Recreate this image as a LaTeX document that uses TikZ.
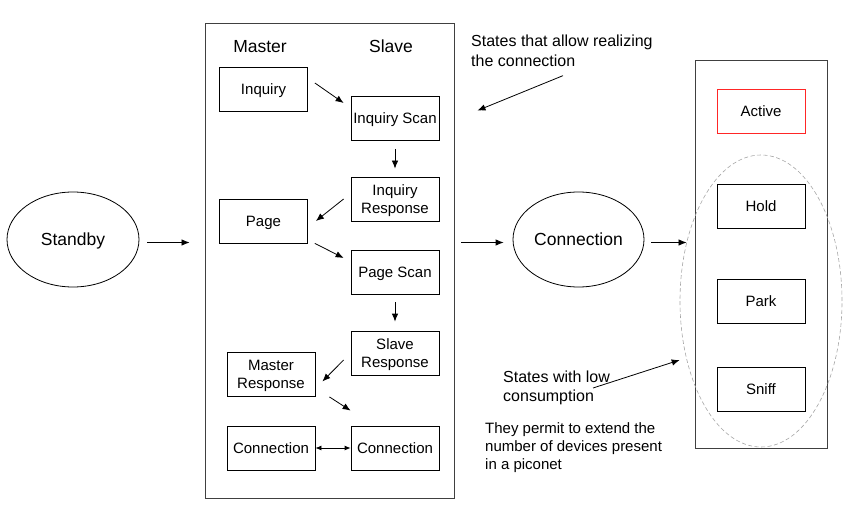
\documentclass[tikz,border=0pt]{standalone}
\usepackage{fontspec}
\setmainfont{Liberation Sans}
\usetikzlibrary{arrows.meta,calc,shapes.geometric}

\tikzset{
	state/.style={draw, line width=0.8pt, minimum width=88pt, minimum height=44pt,
		inner sep=1pt, text depth=0pt, align=center, font=\fontsize{15}{17.5}\selectfont},
	oval/.style={draw, ellipse, line width=0.8pt, minimum width=132pt, minimum height=95pt,
		inner sep=0pt, text depth=0pt, font=\fontsize{17.5}{20}\selectfont},
	frame/.style={draw=black!75, line width=0.9pt, inner sep=0pt},
	arr/.style={line width=0.8pt, -{Latex[length=8pt,width=6.5pt]}},
	head/.style={anchor=base, inner sep=0pt, font=\fontsize{17.5}{20}\selectfont},
	note/.style={anchor=north west, inner sep=0pt, align=left},
}

\begin{document}
\begin{tikzpicture}[x=1pt,y=-1pt]
	\useasboundingbox (0,0) rectangle (853,529);

	% paging / inquiry procedure
	\node[frame, minimum width=249pt, minimum height=475pt] (paging) at (329.5,260.5) {};
	\node[head] (master) at (260,52.7) {Master};
	\node[head] (slave) at (391,52.7) {Slave};

	\node[state] (inq) at (263.5,89) {Inquiry};
	\node[state] (iscan) at (395,118.5) {Inquiry Scan};
	\node[state] (iresp) at (395,199) {Inquiry\\Response};
	\node[state] (page) at (263.5,221) {Page};
	\node[state] (pscan) at (395,272) {Page Scan};
	\node[state] (sresp) at (395,353) {Slave\\Response};
	\node[state] (mresp) at (271,374.5) {Master\\Response};
	\node[state] (conl) at (271,448) {Connection};
	\node[state] (conr) at (395,448) {Connection};

	\draw[arr] ($(inq.east)+(7,-6)$) -- ($(iscan.west)+(-7,-15.5)$);
	\draw[arr] ($(iscan.south)+(0,8)$) -- ($(iresp.north)+(0,-8)$);
	\draw[arr] ($(iresp.west)+(-7,0)$) -- ($(page.east)+(8,0)$);
	\draw[arr] ($(page.south east)+(7,0)$) -- ($(pscan.west)+(-7,-14)$);
	\draw[arr] ($(pscan.south)+(0,8)$) -- ($(sresp.north)+(0,-9)$);
	\draw[arr] ($(sresp.west)+(-7,7)$) -- ($(mresp.east)+(7,7)$);
	\draw[arr] ($(mresp.south east)+(14,0)$) -- ($(conr.north west)+(0,-15)$);
	\draw[line width=0.8pt, {Latex[length=6pt,width=5pt]}-{Latex[length=6pt,width=5pt]}] (conl.east) -- (conr.west);

	% main states
	\node[oval] (standby) at (73,239.5) {Standby};
	\node[oval, minimum width=131pt] (conn) at (578.5,239.5) {Connection};

	\node[frame, minimum width=132pt, minimum height=388pt] (modes) at (761,254) {};
	\node[state, draw=red!85] (active) at (761,111) {Active};
	\foreach \name/\y in {Hold/206,Park/301,Sniff/389}{
		\node[state] (\name) at (761,\y) {\name};
	}
	\node[draw=black!35, dashed, dash pattern=on 4pt off 2.5pt, line width=0.6pt, ellipse,
		minimum width=162pt, minimum height=292pt, inner sep=0pt] (lowpower) at (761,301) {};

	\draw[arr] ($(standby.east)+(8,3)$) -- ($(standby.east -| paging.west)+(-15,3)$);
	\draw[arr] ($(conn.west -| paging.east)+(7,3)$) -- ($(conn.west)+(-9,3)$);
	\draw[arr] ($(conn.east)+(7,3)$) -- ($(conn.east -| modes.west)+(-8,3)$);

	% comments
	\node[note, font=\fontsize{16}{20}\selectfont] (noteconn) at (471,34.5)
		{States that allow realizing\\the connection};
	\draw[arr] ($(noteconn.south west)+(92,9)$) -- ($(paging.north east)+(23,88)$);

	\node[note, font=\fontsize{16}{19}\selectfont] (notelow) at (503,371)
		{States with low\\consumption};
	\draw[arr] ($(notelow.north west)+(90,17)$) -- ($(lowpower.west)+(0,59)$);

	\node[note, font=\fontsize{15}{18}\selectfont] (notepico) at (485,422)
		{They permit to extend the\\number of devices present\\in a piconet};
\end{tikzpicture}
\end{document}
